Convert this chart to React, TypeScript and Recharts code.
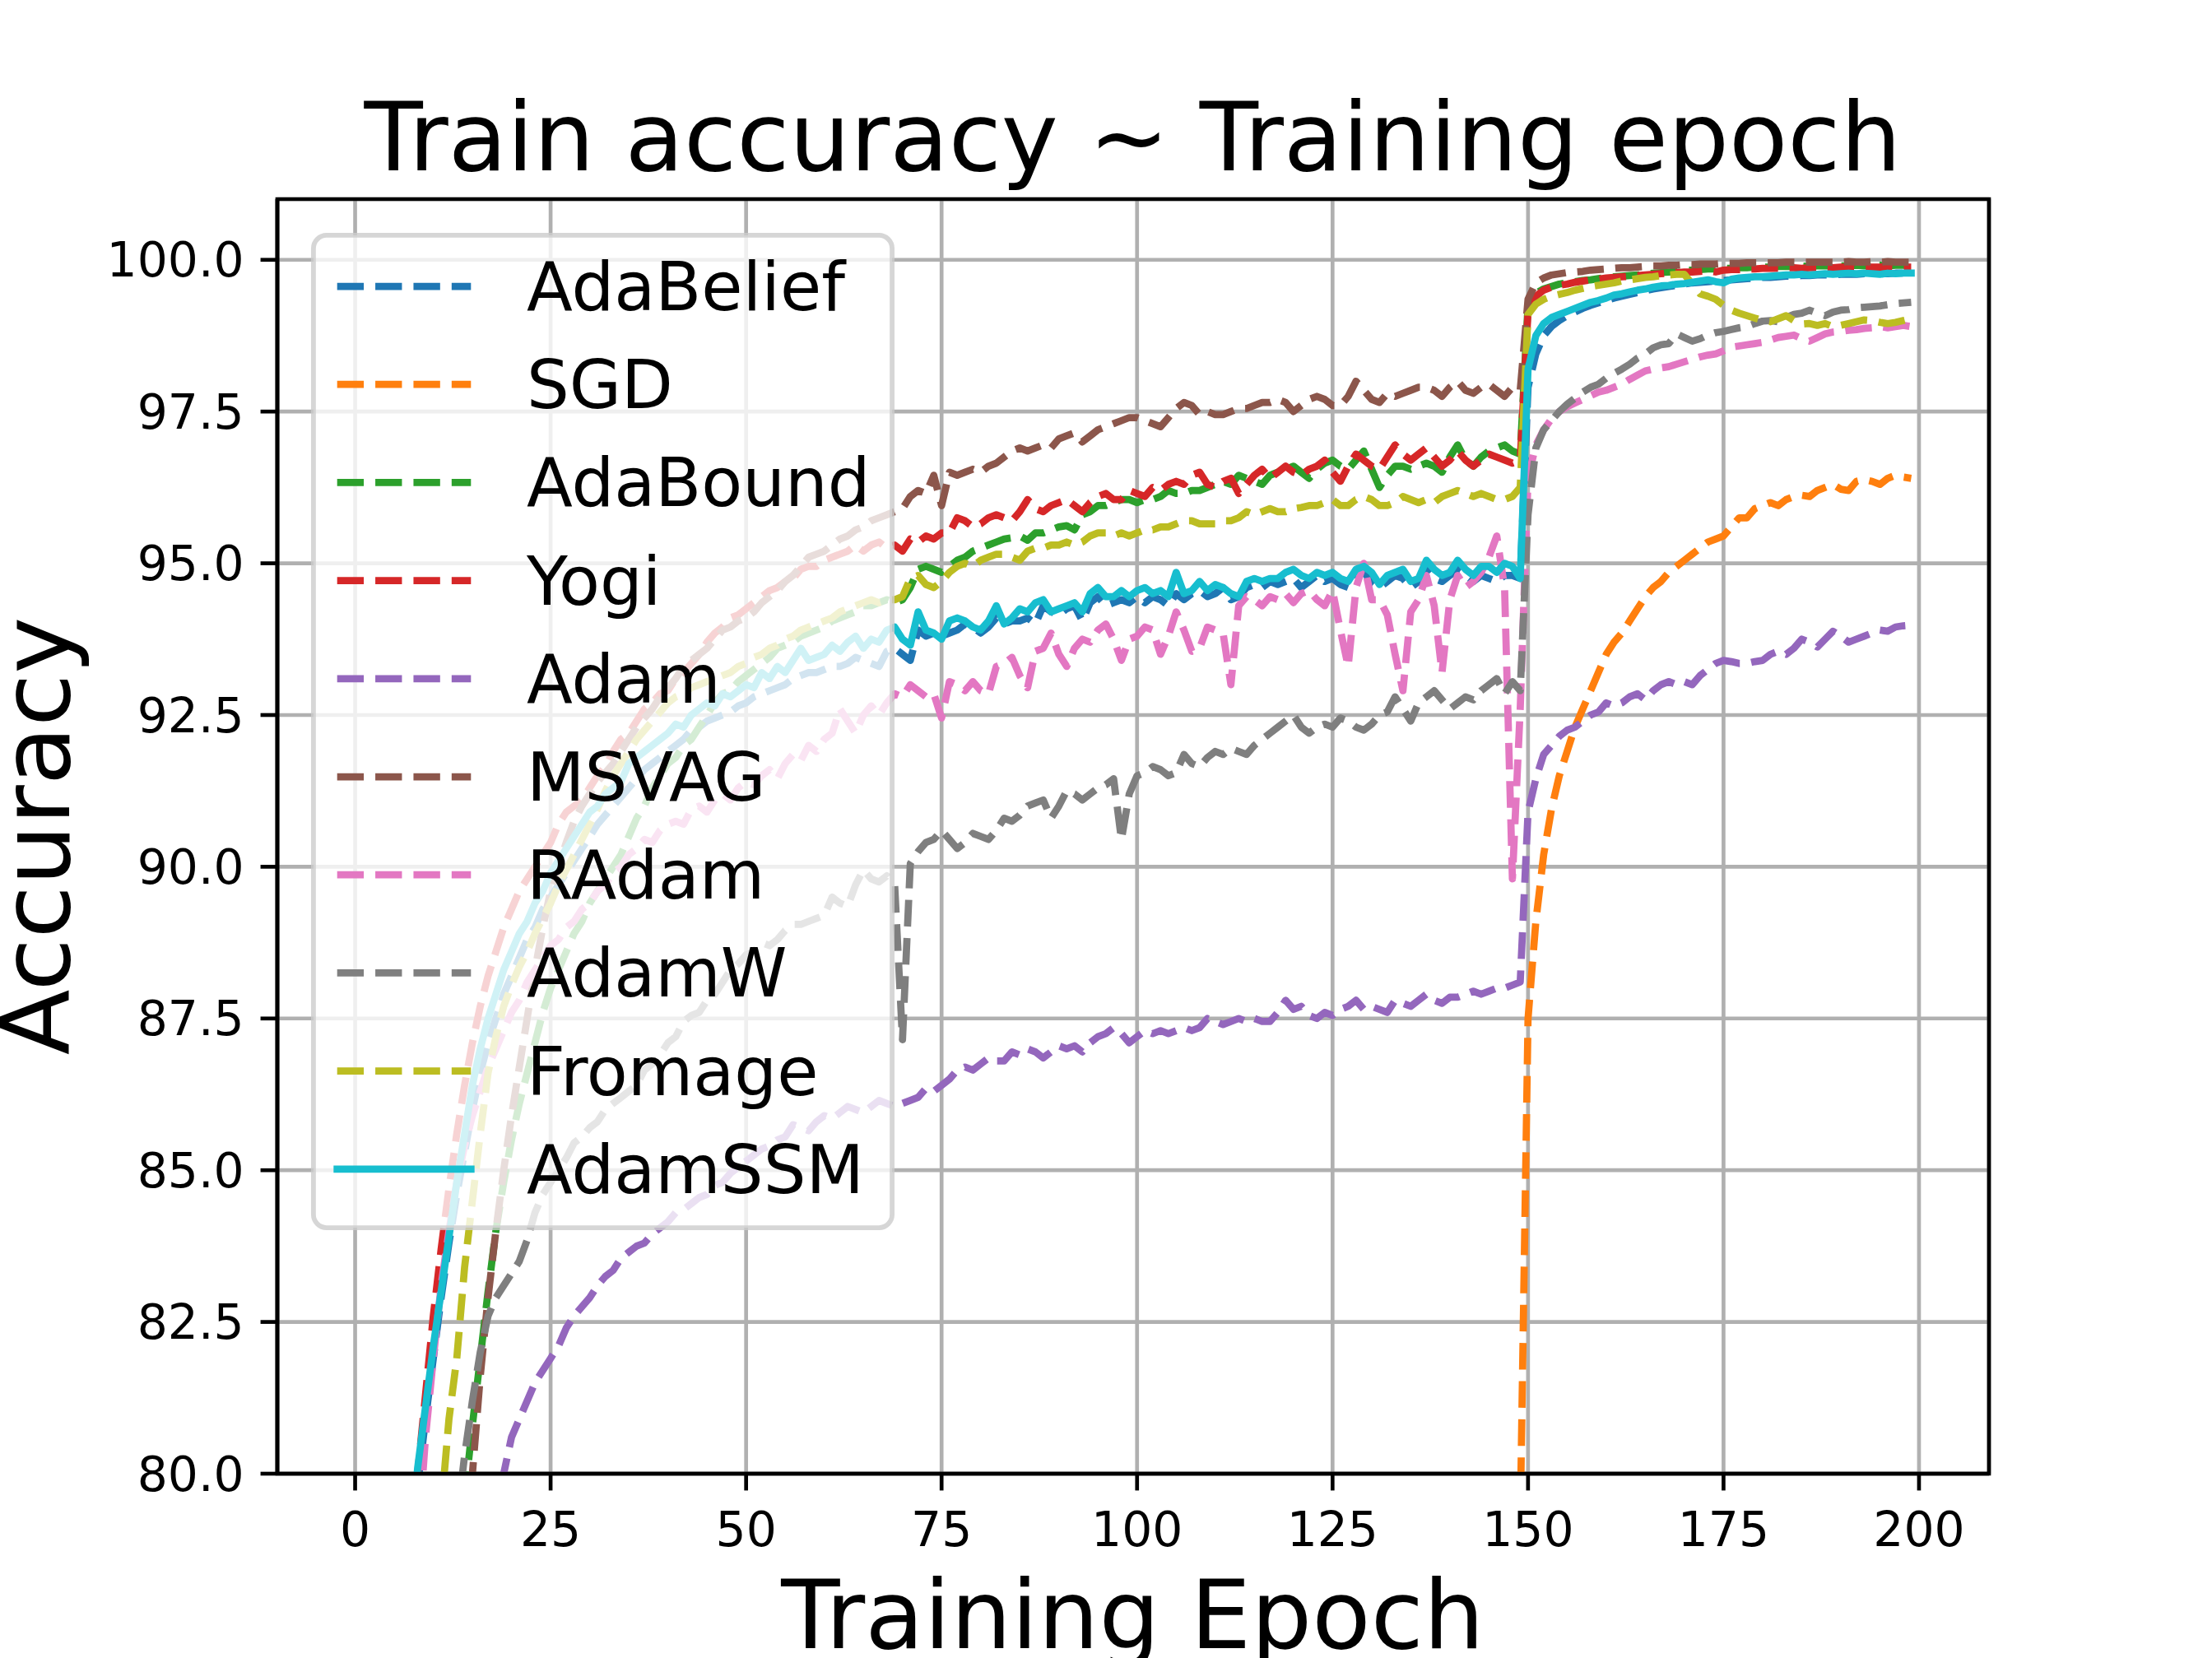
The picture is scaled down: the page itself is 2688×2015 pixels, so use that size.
import React from 'react';
import { LineChart, Line, XAxis, YAxis, CartesianGrid, Legend, ReferenceArea } from 'recharts';

// ---------- data (train accuracy per epoch) ----------
const X_TICKS = [0, 25, 50, 75, 100, 125, 150, 175, 200];
const Y_TICKS = [80, 82.5, 85, 87.5, 90, 92.5, 95, 97.5, 100];
const SERIES_NAMES = ['AdaBelief', 'SGD', 'AdaBound', 'Yogi', 'Adam', 'MSVAG', 'RAdam', 'AdamW', 'Fromage', 'AdamSSM'];
const SERIES_COLORS = ['#1f77b4', '#ff7f0e', '#2ca02c', '#d62728', '#9467bd', '#8c564b', '#e377c2', '#7f7f7f', '#bcbd22', '#17becf'];
// first epoch present in each array (earlier epochs are below the visible range)
const SERIES_START = [7, 149, 14, 7, 18, 14, 8, 13, 11, 7];

const ADABELIEF = [
  78.5, 79.8, 80.9,
  81.9, 82.9, 83.8, 84.6, 85.3, 86.0, 86.6, 87.1, 87.5, 87.9,
  88.2, 88.5, 88.8, 89.0, 89.3, 89.5, 89.7, 89.9, 90.1, 90.3,
  90.5, 90.7, 90.85, 91.0, 91.15, 91.3, 91.45, 91.6, 91.7, 91.8,
  91.9, 92.0, 92.1, 92.25, 92.3, 92.4, 92.45, 92.5, 92.55, 92.65,
  92.7, 92.8, 92.85, 92.9, 92.95, 93.0, 93.1, 93.15, 93.2, 93.2,
  93.25, 93.3, 93.3, 93.35, 93.45, 93.4, 93.35, 93.3, 93.55, 93.6,
  93.5, 93.4, 93.9, 93.8, 93.85, 93.8, 93.85, 93.9, 94.0, 93.95,
  93.85, 93.95, 94.1, 94.0, 94.05, 94.05, 94.1, 94.0, 94.3, 94.2,
  94.15, 94.25, 94.3, 94.05, 94.35, 94.45, 94.3, 94.35, 94.4, 94.35,
  94.45, 94.35, 94.45, 94.4, 94.3, 94.5, 94.4, 94.5, 94.55, 94.45,
  94.5, 94.6, 94.4, 94.45, 94.6, 94.65, 94.6, 94.7, 94.65, 94.7,
  94.75, 94.6, 94.7, 94.8, 94.7, 94.75, 94.65, 94.6, 94.8, 94.85,
  94.7, 94.6, 94.7, 94.8, 94.75, 94.6, 94.7, 94.9, 94.75, 94.7,
  94.8, 94.9, 94.8, 94.7, 94.8, 94.75, 94.7, 94.8, 94.8, 94.75,
  97.9, 98.45, 98.75, 98.9, 99.0, 99.08, 99.14, 99.2, 99.25, 99.29,
  99.33, 99.37, 99.4, 99.43, 99.46, 99.49, 99.52, 99.54, 99.56, 99.58,
  99.6, 99.62, 99.63, 99.64, 99.65, 99.66, 99.67, 99.68, 99.69, 99.7,
  99.71, 99.71, 99.72, 99.73, 99.73, 99.74, 99.74, 99.75, 99.75, 99.75,
  99.76, 99.76, 99.76, 99.77, 99.77, 99.77, 99.77, 99.78, 99.78, 99.78,
];

const SGD = [
  79.2,
  87.5, 89.1, 90.2, 90.95, 91.5, 91.9, 92.3, 92.6, 92.9, 93.2,
  93.5, 93.7, 93.85, 94.05, 94.25, 94.45, 94.6, 94.7, 94.85, 94.95,
  95.05, 95.15, 95.25, 95.35, 95.4, 95.45, 95.6, 95.75, 95.75, 95.9,
  95.95, 96.0, 95.95, 96.05, 96.1, 96.12, 96.1, 96.2, 96.25, 96.3,
  96.22, 96.2, 96.35, 96.38, 96.35, 96.3, 96.4, 96.45, 96.42, 96.4,
];

const ADABOUND = [
  79.6, 80.8, 81.9, 83.0, 84.0, 84.8,
  85.5, 86.1, 86.6, 87.1, 87.6, 88.0, 88.3, 88.6, 88.9, 89.1,
  89.4, 89.6, 89.8, 90.0, 90.2, 90.5, 90.8, 91.0, 91.3, 91.5,
  91.7, 91.8, 92.0, 92.1, 92.3, 92.5, 92.7, 92.85, 92.9, 93.05,
  93.15, 93.25, 93.35, 93.45, 93.6, 93.65, 93.7, 93.8, 93.85, 93.9,
  93.95, 94.05, 94.1, 94.15, 94.2, 94.3, 94.3, 94.35, 94.4, 94.35,
  94.4, 94.6, 94.9, 94.95, 94.9, 94.85, 94.95, 95.05, 95.1, 95.2,
  95.25, 95.3, 95.35, 95.4, 95.42, 95.45, 95.38, 95.5, 95.5, 95.55,
  95.6, 95.62, 95.55, 95.8, 95.85, 95.95, 95.95, 96.0, 96.05, 96.05,
  96.0, 96.05, 96.05, 96.1, 96.2, 96.15, 96.15, 96.2, 96.2, 96.25,
  96.3, 96.35, 96.3, 96.45, 96.4, 96.35, 96.3, 96.45, 96.5, 96.55,
  96.6, 96.5, 96.4, 96.55, 96.65, 96.7, 96.6, 96.55, 96.7, 96.85,
  96.55, 96.25, 96.45, 96.6, 96.6, 96.55, 96.6, 96.65, 96.6, 96.5,
  96.75, 96.95, 96.7, 96.6, 96.75, 96.85, 96.9, 96.95, 96.85, 96.8,
  99.25, 99.45, 99.52, 99.56, 99.6, 99.62, 99.64, 99.66, 99.67, 99.69,
  99.71, 99.72, 99.73, 99.74, 99.75, 99.76, 99.78, 99.79, 99.8, 99.81,
  99.83, 99.83, 99.84, 99.85, 99.85, 99.86, 99.86, 99.87, 99.87, 99.88,
  99.88, 99.88, 99.89, 99.89, 99.89, 99.9, 99.89, 99.9, 99.9, 99.9,
  99.9, 99.9, 99.91, 99.9, 99.91, 99.91, 99.9, 99.91, 99.91, 99.9,
];

const YOGI = [
  78.6, 80.0, 81.3,
  82.6, 83.7, 84.7, 85.6, 86.4, 87.1, 87.7, 88.2, 88.6, 89.0,
  89.3, 89.6, 89.8, 90.0, 90.2, 90.4, 90.7, 90.9, 91.0, 91.1,
  91.3, 91.5, 91.65, 91.9, 92.1, 92.2, 92.4, 92.6, 92.7, 92.85,
  92.9, 93.1, 93.2, 93.35, 93.5, 93.7, 93.85, 93.95, 94.1, 94.15,
  94.25, 94.35, 94.45, 94.55, 94.6, 94.7, 94.75, 94.9, 94.95, 94.95,
  95.05, 95.1, 95.15, 95.2, 95.3, 95.2, 95.3, 95.35, 95.25, 95.3,
  95.2, 95.4, 95.35, 95.45, 95.4, 95.5, 95.5, 95.75, 95.7, 95.6,
  95.65, 95.75, 95.8, 95.75, 95.7, 95.85, 96.05, 95.9, 95.85, 95.95,
  96.0, 96.05, 95.95, 95.85, 96.0, 96.1, 96.15, 96.05, 96.05, 96.2,
  96.15, 96.1, 96.25, 96.2, 96.3, 96.35, 96.3, 96.45, 96.5, 96.3,
  96.25, 96.35, 96.4, 96.15, 96.3, 96.45, 96.55, 96.4, 96.5, 96.6,
  96.5, 96.45, 96.55, 96.6, 96.7, 96.5, 96.35, 96.6, 96.8, 96.7,
  96.6, 96.55, 96.75, 96.95, 96.8, 96.7, 96.8, 96.9, 96.75, 96.6,
  96.7, 96.85, 96.7, 96.6, 96.7, 96.8, 96.75, 96.7, 96.65, 96.7,
  99.15, 99.4, 99.5, 99.55, 99.58, 99.6, 99.63, 99.65, 99.67, 99.68,
  99.7, 99.71, 99.72, 99.73, 99.74, 99.75, 99.76, 99.77, 99.78, 99.79,
  99.8, 99.8, 99.81, 99.82, 99.8, 99.83, 99.84, 99.84, 99.85, 99.85,
  99.86, 99.86, 99.86, 99.87, 99.87, 99.86, 99.87, 99.87, 99.88, 99.87,
  99.88, 99.88, 99.87, 99.88, 99.88, 99.88, 99.89, 99.88, 99.88, 99.88,
];

const ADAM = [
  79.2, 80.0,
  80.6, 80.9, 81.2, 81.5, 81.7, 81.9, 82.1, 82.4, 82.6, 82.75,
  82.9, 83.1, 83.25, 83.35, 83.55, 83.65, 83.75, 83.8, 83.95, 84.05,
  84.15, 84.3, 84.35, 84.45, 84.55, 84.6, 84.75, 84.8, 84.95, 85.05,
  85.15, 85.25, 85.35, 85.4, 85.5, 85.55, 85.75, 85.7, 85.65, 85.8,
  85.9, 85.85, 85.95, 86.05, 86.0, 85.95, 86.05, 86.15, 86.1, 86.05,
  86.1, 86.15, 86.2, 86.35, 86.3, 86.4, 86.5, 86.65, 86.7, 86.65,
  86.75, 86.85, 86.8, 86.8, 86.95, 86.9, 87.0, 86.95, 86.85, 86.95,
  87.05, 87.0, 87.05, 86.95, 87.1, 87.2, 87.25, 87.35, 87.25, 87.1,
  87.2, 87.3, 87.25, 87.3, 87.25, 87.3, 87.35, 87.3, 87.35, 87.5,
  87.45, 87.4, 87.45, 87.5, 87.45, 87.5, 87.45, 87.45, 87.6, 87.8,
  87.65, 87.7, 87.55, 87.5, 87.6, 87.55, 87.65, 87.7, 87.8, 87.65,
  87.7, 87.65, 87.6, 87.8, 87.75, 87.7, 87.8, 87.9, 87.8, 87.75,
  87.85, 87.85, 87.9, 87.95, 87.9, 87.95, 88.0, 88.0, 88.05, 88.1,
  90.9, 91.45, 91.85, 92.0, 92.15, 92.25, 92.3, 92.4, 92.5, 92.55,
  92.7, 92.65, 92.7, 92.8, 92.85, 92.75, 92.9, 93.0, 93.05, 93.0,
  93.05, 93.0, 93.15, 93.25, 93.35, 93.4, 93.38, 93.35, 93.35, 93.38,
  93.4, 93.5, 93.55, 93.5, 93.6, 93.75, 93.7, 93.62, 93.75, 93.88,
  93.8, 93.7, 93.75, 93.8, 93.85, 93.9, 93.88, 93.95, 93.97, 93.98,
];

const MSVAG = [
  78.5, 80.0, 81.6, 82.9, 84.0, 85.0,
  85.9, 86.7, 87.5, 88.3, 89.0, 89.6, 90.0, 90.4, 90.75, 91.0,
  91.2, 91.4, 91.55, 91.7, 91.9, 92.1, 92.3, 92.45, 92.6, 92.8,
  92.95, 93.1, 93.3, 93.4, 93.5, 93.6, 93.75, 93.9, 93.95, 94.05,
  94.1, 94.2, 94.35, 94.45, 94.55, 94.7, 94.8, 94.95, 95.1, 95.15,
  95.2, 95.3, 95.4, 95.45, 95.55, 95.6, 95.7, 95.75, 95.8, 95.85,
  95.9, 96.1, 96.2, 96.15, 96.45, 95.95, 96.5, 96.45, 96.5, 96.55,
  96.5, 96.6, 96.65, 96.75, 96.85, 96.9, 96.85, 96.9, 96.95, 96.9,
  97.05, 97.1, 97.15, 97.0, 97.1, 97.2, 97.25, 97.3, 97.35, 97.4,
  97.4, 97.35, 97.3, 97.25, 97.4, 97.55, 97.65, 97.6, 97.45, 97.5,
  97.45, 97.45, 97.5, 97.55, 97.55, 97.6, 97.65, 97.65, 97.7, 97.65,
  97.5, 97.6, 97.7, 97.75, 97.7, 97.6, 97.6, 97.75, 98.0, 97.85,
  97.7, 97.65, 97.8, 97.75, 97.8, 97.85, 97.9, 97.9, 97.85, 97.75,
  97.9, 98.0, 97.85, 97.8, 97.9, 97.95, 97.85, 97.75, 97.9, 97.85,
  99.35, 99.62, 99.7, 99.75, 99.77, 99.79, 99.8, 99.81, 99.83, 99.84,
  99.85, 99.86, 99.87, 99.87, 99.88, 99.89, 99.9, 99.9, 99.91, 99.91,
  99.92, 99.92, 99.93, 99.93, 99.93, 99.94, 99.94, 99.94, 99.95, 99.95,
  99.95, 99.95, 99.95, 99.96, 99.96, 99.96, 99.96, 99.96, 99.96, 99.96,
  99.96, 99.97, 99.96, 99.96, 99.97, 99.96, 99.97, 99.96, 99.96, 99.96,
];

const RADAM = [
  78.8, 80.6,
  81.9, 83.1, 84.0, 84.8, 85.4, 85.9, 86.3, 86.7, 87.0, 87.3,
  87.6, 87.8, 88.1, 88.3, 88.5, 88.7, 88.8, 89.0, 89.1, 89.3,
  89.4, 89.6, 89.7, 89.9, 90.0, 90.2, 90.3, 90.45, 90.4, 90.6,
  90.7, 90.75, 90.7, 90.95, 91.0, 90.9, 91.1, 91.2, 91.1, 91.3,
  91.4, 91.35, 91.5, 91.6, 91.45, 91.7, 91.85, 91.75, 92.0, 91.9,
  92.1, 92.2, 92.6, 92.4, 92.2, 92.5, 92.65, 92.5, 92.7, 92.85,
  92.8, 93.0, 92.9, 92.8, 92.85, 92.45, 93.05, 93.0, 92.9, 93.05,
  92.9, 92.85, 93.3, 93.35, 93.45, 93.15, 92.95, 93.55, 93.6, 93.85,
  93.5, 93.3, 93.6, 93.75, 93.7, 93.9, 94.0, 93.75, 93.4, 93.75,
  93.8, 93.95, 93.9, 93.5, 93.8, 94.2, 93.9, 93.55, 93.6, 93.95,
  93.9, 93.85, 93.0, 94.3, 94.45, 94.4, 94.3, 94.45, 94.4, 94.5,
  94.35, 94.5, 94.55, 94.4, 94.3, 94.55, 93.9, 93.3, 94.6, 95.0,
  94.4, 94.4, 94.15, 93.5, 92.9, 94.2, 94.4, 94.8, 94.3, 93.2,
  94.4, 94.8, 94.6, 94.7, 94.85, 95.1, 95.45, 94.6, 89.8, 92.6,
  96.4, 96.95, 97.2, 97.38, 97.5, 97.58, 97.64, 97.7, 97.76, 97.82,
  97.85, 97.9, 97.95, 98.03, 98.1, 98.17, 98.2, 98.22, 98.24, 98.28,
  98.32, 98.36, 98.4, 98.43, 98.45, 98.5, 98.56, 98.58, 98.6, 98.62,
  98.64, 98.68, 98.72, 98.74, 98.76, 98.7, 98.66, 98.72, 98.78, 98.81,
  98.82, 98.84, 98.85, 98.87, 98.88, 98.9, 98.88, 98.9, 98.92, 98.9,
];

const ADAMW = [
  79.2, 80.3, 81.2, 82.0, 82.6, 82.9, 83.1,
  83.3, 83.5, 83.85, 84.3, 84.6, 84.8, 85.0, 85.2, 85.45, 85.55,
  85.7, 85.8, 86.0, 86.1, 86.2, 86.3, 86.4, 86.65, 86.75, 86.9,
  87.1, 87.2, 87.45, 87.55, 87.6, 87.8, 87.9, 88.1, 88.3, 88.4,
  88.55, 88.6, 88.75, 88.7, 88.8, 88.95, 89.05, 89.05, 89.1, 89.15,
  89.2, 89.5, 89.4, 89.35, 89.7, 89.95, 89.8, 89.75, 89.85, 89.7,
  87.15, 90.05, 90.25, 90.4, 90.45, 90.6, 90.45, 90.3, 90.4, 90.55,
  90.5, 90.45, 90.6, 90.8, 90.75, 90.85, 91.0, 91.05, 91.1, 90.8,
  91.0, 91.25, 91.2, 91.1, 91.2, 91.3, 91.35, 91.45, 90.45, 91.2,
  91.5, 91.55, 91.65, 91.6, 91.5, 91.55, 91.85, 91.7, 91.65, 91.8,
  91.9, 91.85, 91.95, 91.9, 91.85, 92.0, 92.1, 92.2, 92.3, 92.4,
  92.5, 92.3, 92.2, 92.3, 92.35, 92.3, 92.45, 92.4, 92.3, 92.25,
  92.35, 92.5, 92.55, 92.8, 92.6, 92.4, 92.7, 92.8, 92.9, 92.75,
  92.6, 92.7, 92.8, 92.75, 92.9, 93.0, 93.1, 92.85, 93.05, 92.9,
  95.8, 96.9, 97.2, 97.35, 97.5, 97.62, 97.72, 97.82, 97.9, 97.95,
  98.05, 98.13, 98.2, 98.28, 98.38, 98.45, 98.55, 98.6, 98.62, 98.78,
  98.72, 98.66, 98.7, 98.76, 98.8, 98.82, 98.85, 98.88, 98.9, 98.95,
  98.99, 99.0, 98.98, 99.05, 99.1, 99.12, 99.17, 99.12, 99.08, 99.14,
  99.17, 99.18, 99.21, 99.22, 99.23, 99.24, 99.26, 99.28, 99.29, 99.3,
];

const FROMAGE = [
  79.4, 80.9, 81.9, 83.4, 84.5, 85.6, 86.6, 87.2, 87.7,
  88.05, 88.35, 88.6, 88.9, 89.15, 89.4, 89.7, 89.95, 90.2, 90.45,
  90.7, 90.95, 91.25, 91.5, 91.7, 91.9, 92.1, 92.25, 92.4, 92.55,
  92.7, 92.8, 92.85, 92.95, 93.0, 93.05, 93.1, 93.15, 93.2, 93.3,
  93.35, 93.45, 93.5, 93.6, 93.65, 93.75, 93.8, 93.9, 93.95, 94.0,
  94.05, 94.1, 94.2, 94.25, 94.3, 94.35, 94.4, 94.35, 94.4, 94.4,
  94.45, 94.75, 94.8, 94.65, 94.6, 94.7, 94.85, 94.95, 95.0, 94.95,
  95.05, 95.1, 95.15, 95.15, 95.1, 95.05, 95.2, 95.25, 95.25, 95.3,
  95.3, 95.35, 95.3, 95.35, 95.45, 95.5, 95.5, 95.45, 95.5, 95.45,
  95.5, 95.55, 95.55, 95.6, 95.6, 95.65, 95.7, 95.7, 95.65, 95.65,
  95.65, 95.7, 95.7, 95.75, 95.85, 95.8, 95.85, 95.9, 95.85, 95.85,
  95.9, 95.92, 95.95, 95.95, 96.0, 96.05, 95.95, 95.95, 96.05, 96.1,
  96.05, 95.95, 95.95, 96.0, 96.1, 96.05, 96.0, 96.05, 96.0, 96.1,
  96.15, 96.2, 96.15, 96.1, 96.15, 96.1, 96.05, 96.05, 96.1, 96.25,
  99.1, 99.27, 99.35, 99.4, 99.43, 99.46, 99.5, 99.53, 99.56, 99.58,
  99.6, 99.62, 99.65, 99.67, 99.69, 99.71, 99.72, 99.74, 99.75, 99.76,
  99.76, 99.6, 99.44, 99.4, 99.35, 99.25, 99.17, 99.12, 99.08, 99.04,
  99.0, 98.98, 99.03, 99.08, 99.0, 98.94, 98.95, 98.92, 98.95, 98.9,
  98.92, 98.95, 98.98, 99.01, 99.0, 98.97, 98.95, 98.97, 99.0, 99.03,
];

const ADAMSSM = [
  78.8, 80.1, 81.1,
  82.1, 83.0, 83.9, 84.8, 85.6, 86.4, 87.0, 87.5, 87.9, 88.3,
  88.6, 88.9, 89.1, 89.4, 89.6, 89.9, 90.1, 90.3, 90.5, 90.7,
  90.9, 91.0, 91.2, 91.3, 91.4, 91.7, 91.8, 91.9, 92.0, 92.1,
  92.2, 92.35, 92.3, 92.5, 92.6, 92.7, 92.65, 92.85, 92.8, 92.9,
  93.0, 92.95, 93.2, 93.1, 93.3, 93.2, 93.4, 93.6, 93.4, 93.45,
  93.5, 93.65, 93.55, 93.7, 93.8, 93.6, 93.75, 93.7, 93.9, 93.95,
  93.75, 93.65, 94.2, 93.9, 93.85, 93.75, 94.05, 94.1, 94.05, 93.95,
  93.9, 94.05, 94.3, 94.0, 94.1, 94.25, 94.2, 94.35, 94.4, 94.2,
  94.25, 94.3, 94.35, 94.2, 94.5, 94.6, 94.45, 94.45, 94.55, 94.45,
  94.55, 94.6, 94.5, 94.55, 94.45, 94.85, 94.5, 94.55, 94.7, 94.55,
  94.65, 94.6, 94.5, 94.45, 94.7, 94.75, 94.7, 94.75, 94.75, 94.85,
  94.9, 94.8, 94.75, 94.85, 94.8, 94.85, 94.75, 94.7, 94.9, 94.95,
  94.85, 94.65, 94.8, 94.85, 94.9, 94.7, 94.75, 95.05, 94.9, 94.8,
  94.85, 95.05, 94.9, 94.8, 94.95, 94.95, 94.85, 95.0, 94.95, 94.75,
  98.2, 98.75, 98.95, 99.05, 99.1, 99.15, 99.2, 99.25, 99.3, 99.33,
  99.37, 99.42, 99.44, 99.47, 99.5, 99.52, 99.55, 99.57, 99.58, 99.6,
  99.61, 99.63, 99.65, 99.67, 99.64, 99.62, 99.68, 99.7, 99.71, 99.72,
  99.72, 99.73, 99.74, 99.75, 99.75, 99.76, 99.75, 99.76, 99.77, 99.76,
  99.77, 99.78, 99.77, 99.78, 99.77, 99.76, 99.78, 99.77, 99.78, 99.78,
];

const SERIES_VALUES = [ADABELIEF, SGD, ADABOUND, YOGI, ADAM, MSVAG, RADAM, ADAMW, FROMAGE, ADAMSSM];
const EPOCH_COUNT = 200;

// ---------- table for recharts ----------
const chartData = Array.from({ length: EPOCH_COUNT }, (_, ep) => {
  const row: Record<string, number | null> = { epoch: ep };
  SERIES_NAMES.forEach((name, k) => {
    const i = ep - SERIES_START[k];
    const vals = SERIES_VALUES[k];
    row[name] = i >= 0 && i < vals.length ? vals[i] : null;
  });
  return row;
});

// ---------- styling (matplotlib look at 420 dpi) ----------
const W = 2688;
const H = 2015;
const PT = 420 / 72;
const FONT = "'DejaVu Sans', 'Liberation Sans', sans-serif";
const LW = 1.5 * PT;
const DASH = `${3.7 * 1.5 * PT} ${1.6 * 1.5 * PT}`;
const THIN = 0.8 * PT;
const TICK_LEN = 3.5 * PT;

const isDashed = (name: string) => name !== 'AdamSSM';

const LegendBox = () => {
  const w = 709;
  const h = 1212;
  return (
    <svg width={w} height={h} style={{ display: 'block', overflow: 'visible' }}>
      <rect
        x={2.9}
        y={2.9}
        width={w - 5.8}
        height={h - 5.8}
        rx={16}
        ry={16}
        fill="#ffffff"
        fillOpacity={0.8}
        stroke="#cccccc"
        strokeOpacity={0.8}
        strokeWidth={1.0 * PT}
      />
      {SERIES_NAMES.map((name, i) => {
        const cy = 65 + i * 119.2;
        const dashed = isDashed(name);
        return (
          <g key={name}>
            <line
              x1={31.7}
              x2={194.3}
              y1={cy}
              y2={cy}
              stroke={SERIES_COLORS[i]}
              strokeWidth={LW}
              strokeDasharray={dashed ? DASH : undefined}
              strokeLinecap={dashed ? 'butt' : 'square'}
            />
            <text x={262} y={cy + 29} fontSize={14 * PT} fontFamily={FONT} fill="#000">
              {name}
            </text>
          </g>
        );
      })}
    </svg>
  );
};

export default function App() {
  const tickStyle = { fontSize: 10 * PT, fill: '#000', fontFamily: FONT };
  return (
    <div style={{ position: 'absolute', left: 0, top: 0, width: W, height: H, background: '#fff', overflow: 'hidden' }}>
      <svg width={W} height={H} style={{ position: 'absolute', left: 0, top: 0 }}>
        <text x={1376.5} y={207} textAnchor="middle" fontSize={20 * PT} fontFamily={FONT} fill="#000">
          Train accuracy ~ Training epoch
        </text>
        <text x={1376.5} y={2003} textAnchor="middle" fontSize={20 * PT} fontFamily={FONT} fill="#000">
          Training Epoch
        </text>
        <text
          x={0}
          y={0}
          transform="translate(84,1016) rotate(-90)"
          textAnchor="middle"
          fontSize={20 * PT}
          fontFamily={FONT}
          fill="#000"
        >
          Accuracy
        </text>
      </svg>
      <div style={{ position: 'absolute', left: 0, top: 0 }}>
        <LineChart
          width={W}
          height={H}
          data={chartData}
          margin={{ top: 242, right: 271, bottom: 0, left: 0 }}
        >
          <CartesianGrid stroke="#b0b0b0" strokeWidth={THIN} />
          <XAxis
            dataKey="epoch"
            type="number"
            domain={[-9.95, 208.95]}
            ticks={X_TICKS}
            allowDataOverflow
            height={224}
            tickSize={TICK_LEN}
            tickMargin={26}
            tick={tickStyle}
            tickLine={{ stroke: '#000', strokeWidth: THIN }}
            axisLine={{ stroke: '#000', strokeWidth: THIN }}
            interval={0}
          />
          <YAxis
            type="number"
            domain={[80, 101]}
            ticks={Y_TICKS}
            allowDataOverflow
            width={337}
            tickSize={TICK_LEN}
            tickMargin={20}
            tick={tickStyle}
            tickFormatter={(v: number) => v.toFixed(1)}
            tickLine={{ stroke: '#000', strokeWidth: THIN }}
            axisLine={{ stroke: '#000', strokeWidth: THIN }}
            interval={0}
          />
          {SERIES_NAMES.map((name, i) => (
            <Line
              key={name}
              type="linear"
              dataKey={name}
              stroke={SERIES_COLORS[i]}
              strokeWidth={LW}
              strokeDasharray={isDashed(name) ? DASH : undefined}
              strokeLinejoin="round"
              strokeLinecap={isDashed(name) ? 'butt' : 'square'}
              dot={false}
              activeDot={false}
              isAnimationActive={false}
              legendType="none"
            />
          ))}
          <ReferenceArea
            x1={-9.95}
            x2={208.95}
            y1={80}
            y2={101}
            fill="none"
            fillOpacity={0}
            stroke="#000"
            strokeWidth={THIN}
            ifOverflow="visible"
          />
          <Legend
            layout="vertical"
            align="center"
            verticalAlign="middle"
            content={() => <LegendBox />}
            wrapperStyle={{ position: 'absolute', left: 378, top: 283, width: 709, height: 1212, margin: 0, padding: 0 }}
          />
        </LineChart>
      </div>
    </div>
  );
}
